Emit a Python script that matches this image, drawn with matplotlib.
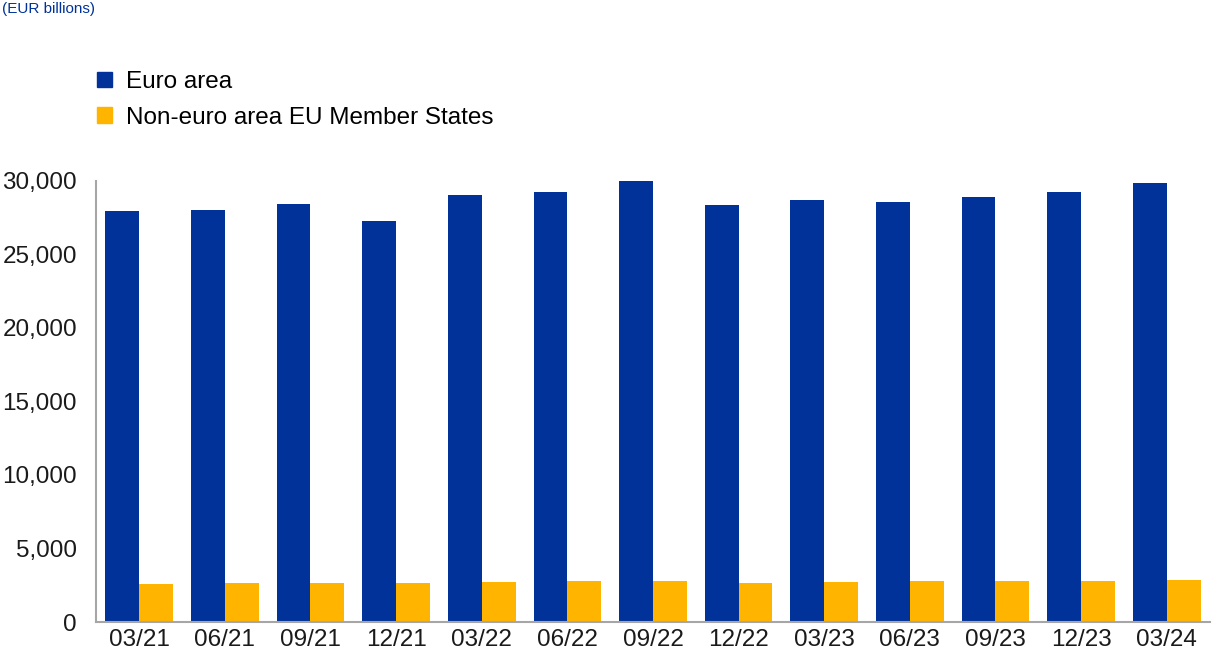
"""Euro area vs non-euro area EU Member States (EUR billions)."""

import numpy as np
import matplotlib.pyplot as plt
from matplotlib.patches import Patch
from matplotlib.ticker import FuncFormatter

quarters = ['03/21', '06/21', '09/21', '12/21', '03/22', '06/22', '09/22',
            '12/22', '03/23', '06/23', '09/23', '12/23', '03/24']
euro_area = [27960, 28030, 28400, 27260, 29050, 29250, 29980,
             28350, 28720, 28600, 28890, 29230, 29860]
non_euro = [2600, 2650, 2670, 2620, 2720, 2770, 2770,
            2650, 2740, 2770, 2790, 2810, 2860]

BLUE = '#003299'
YELLOW = '#FFB400'
GREY = '#A6A6A6'

plt.rcParams['font.family'] = ['Liberation Sans', 'DejaVu Sans']

if __name__ == '__main__':
    fig = plt.figure(figsize=(12.12, 6.58), dpi=100)
    ax = fig.add_axes([0.0795, 0.0547, 0.9185, 0.6703])

    x = np.arange(len(quarters))
    w = 0.395
    ax.bar(x - w / 2, euro_area, width=w, color=BLUE, label='Euro area')
    ax.bar(x + w / 2, non_euro, width=w, color=YELLOW,
           label='Non-euro area EU Member States')

    ax.set_xlim(-0.5, len(quarters) - 0.5)
    ax.set_ylim(0, 30000)
    ax.set_yticks(np.arange(0, 30001, 5000))
    ax.yaxis.set_major_formatter(FuncFormatter(lambda v, p: '{:,.0f}'.format(v)))
    ax.set_xticks(x)
    ax.set_xticklabels(quarters)
    ax.tick_params(axis='both', length=0, labelsize=17.5, colors='#1a1a1a')
    ax.tick_params(axis='y', pad=14)
    ax.tick_params(axis='x', pad=5)

    for side in ['top', 'right']:
        ax.spines[side].set_visible(False)
    for side in ['left', 'bottom']:
        ax.spines[side].set_color(GREY)
        ax.spines[side].set_linewidth(1.5)

    handles = [Patch(color=BLUE, label='Euro area'),
               Patch(color=YELLOW, label='Non-euro area EU Member States')]
    fig.legend(handles=handles, loc='upper left', bbox_to_anchor=(0.062, 0.925),
               frameon=False, fontsize=17.5, handlelength=0.6, handleheight=0.6,
               handletextpad=0.6, labelspacing=0.55)

    fig.text(0.002, 0.997, '(EUR billions)', color=BLUE, fontsize=11,
             ha='left', va='top')

    fig.savefig('out.png', dpi=100)
